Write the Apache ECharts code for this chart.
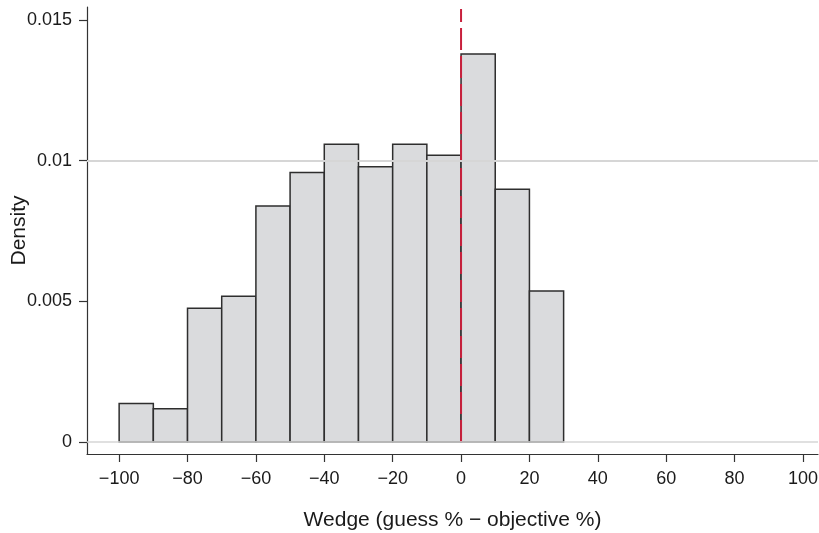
<!DOCTYPE html>
<html><head><meta charset="utf-8">
<script src="https://cdn.jsdelivr.net/npm/echarts@6/dist/echarts.min.js"></script>
<style>html,body{margin:0;padding:0;background:#fff}#c{width:819px;height:533px}</style>
</head><body><div id="c"></div>
<script>
const binStarts = [-100,-90,-80,-70,-60,-50,-40,-30,-20,-10,0,10,20];
const binWidth = 10;
const density = [0.00137,0.00118,0.00475,0.00518,0.00839,0.00958,0.01058,0.00978,0.01058,0.01019,0.01379,0.00898,0.00537];
const xTicks = [-100,-80,-60,-40,-20,0,20,40,60,80,100];
const xTickLabels = ['\u2212100','\u221280','\u221260','\u221240','\u221220','0','20','40','60','80','100'];
const yTicks = [0,0.005,0.01,0.015];
const yTickLabels = ['0','0.005','0.01','0.015'];
const refX = 0;
const refTop = 0.01539;
const xName = 'Wedge (guess % \u2212 objective %)';
const yName = 'Density';

const FONT = 'Liberation Sans';
const TXT = '#1a1a1a';
const histData = binStarts.map((s,i)=>[s, s+binWidth, density[i]]);

const chart = echarts.init(document.getElementById('c'), null, {renderer:'canvas'});
chart.setOption({
  animation:false,
  backgroundColor:'#fff',
  grid:{left:87,right:1,top:7,bottom:79,containLabel:false,outerBoundsMode:'none'},
  xAxis:{
    type:'value', min:-109.4, max:104.4,
    name:xName, nameLocation:'middle', nameGap:56, nameMoveOverlap:false,
    nameTextStyle:{fontFamily:FONT,fontSize:21,color:TXT},
    axisLine:{show:true,onZero:false,lineStyle:{color:'#333',width:1.2}},
    axisTick:{show:true,length:8,customValues:xTicks,lineStyle:{color:'#333',width:1.2}},
    axisLabel:{show:true,margin:16,customValues:xTicks,fontFamily:FONT,fontSize:18,color:TXT,
      hideOverlap:false,
      formatter:v=>{const i=xTicks.indexOf(v);return i>=0?xTickLabels[i]:'';}},
    splitLine:{show:false}
  },
  yAxis:{
    type:'value', min:-0.000427, max:0.01546,
    name:yName, nameLocation:'middle', nameGap:57, nameMoveOverlap:false,
    nameTextStyle:{fontFamily:FONT,fontSize:21,color:TXT},
    axisLine:{show:true,onZero:false,lineStyle:{color:'#333',width:1.2}},
    axisTick:{show:true,length:8,customValues:yTicks,lineStyle:{color:'#333',width:1.2}},
    axisLabel:{show:true,margin:15,customValues:yTicks,fontFamily:FONT,fontSize:18,color:TXT,
      formatter:v=>{const i=yTicks.findIndex(t=>Math.abs(t-v)<1e-9);return i>=0?yTickLabels[i]:'';}},
    splitLine:{show:false}
  },
  series:[
    {
      type:'line', data:[], z:1, silent:true,
      markLine:{silent:true,symbol:['none','none'],label:{show:false},animation:false,
        lineStyle:{color:'#d6d6d6',width:1.5,type:'solid'},
        data:yTicks.map(t=>({yAxis:t}))}
    },
    {
      type:'custom', z:3, data:histData, encode:{x:[0,1],y:2},
      renderItem:(params,api)=>{
        const p0=api.coord([api.value(0),0]);
        const p1=api.coord([api.value(1),api.value(2)]);
        return {type:'rect',shape:{x:p0[0],y:p1[1],width:p1[0]-p0[0],height:p0[1]-p1[1]},
          style:{fill:'#dadbdd',stroke:'#2e2e2e',lineWidth:1.5}};
      }
    },
    {
      type:'line', z:4, silent:true, symbol:'none',
      data:[[refX,0],[refX,refTop]],
      lineStyle:{color:'#c8203c',width:2,type:[22,6]}
    }
  ]
});
</script></body></html>
